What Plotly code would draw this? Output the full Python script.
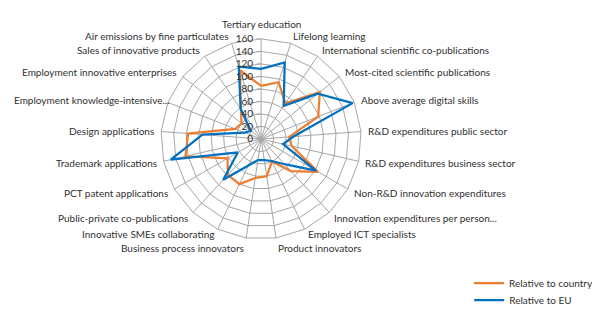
import math
import plotly.graph_objects as go

categories = [
    "Tertiary education", "Lifelong learning", "International scientific co-publications",
    "Most-cited scientific publications", "Above average digital skills",
    "R&D expenditures public sector", "R&D expenditures business sector",
    "Non-R&D innovation expenditures", "Innovation expenditures per person...",
    "Employed ICT specialists", "Product innovators", "Business process innovators",
    "Innovative SMEs collaborating", "Public-private co-publications",
    "PCT patent applications", "Trademark applications", "Design applications",
    "Employment knowledge-intensive...", "Employment innovative enterprises",
    "Sales of innovative products", "Air emissions by fine particulates",
]
relative_to_country = [85, 95, 69, 120, 98, 45, 50, 105, 70, 40, 60, 63, 80, 78,
                       62, 124, 117, 44, 40, 57, 115]
relative_to_eu = [112, 128, 64, 116, 157, 52, 36, 101, 55, 39, 34, 34, 47, 89,
                  43, 148, 94, 28, 21, 58, 121]
radial_ticks = [0, 20, 40, 60, 80, 100, 120, 140, 160]

ORANGE = "#ED7D31"
BLUE = "#0070C0"
TEXT = "#303030"
GRID = "#A6A6A6"
FS = 10

W, H = 598, 325
# polar area (pixels): center and outer radius
CX, CY, RAD = 266, 139, 102
LABEL_R = 108
EDGE = 13          # labels are kept inside the chart area
CHAR_W = 5.0       # rough average glyph width at FS

fig = go.Figure()
fig.add_trace(go.Scatterpolar(
    r=relative_to_country + relative_to_country[:1],
    theta=categories + categories[:1],
    mode="lines", name="Relative to country",
    line=dict(color=ORANGE, width=2.25), legend="legend",
))
fig.add_trace(go.Scatterpolar(
    r=relative_to_eu + relative_to_eu[:1],
    theta=categories + categories[:1],
    mode="lines", name="Relative to EU",
    line=dict(color=BLUE, width=2.25), legend="legend2",
))

# category labels placed around the radar like the original
annotations = []
n = len(categories)
for i, name in enumerate(categories):
    ang = math.radians(i * 360 / n)
    s, c = math.sin(ang), math.cos(ang)
    px = CX + LABEL_R * s
    py = CY - LABEL_R * c
    if abs(s) < 0.05:
        xa, ya = "center", ("bottom" if c > 0 else "top")
    else:
        xa, ya = ("left" if s > 0 else "right"), "middle"
        if xa == "right" and px - len(name) * CHAR_W < EDGE:
            xa, px = "left", EDGE
    # keep the crowded labels at the bottom from colliding
    yshift = 0
    if c < -0.95:
        yshift = -2
    elif c < -0.85:
        yshift = 2
    annotations.append(dict(
        x=px / W, y=1 - py / H, xref="paper", yref="paper",
        text=name, showarrow=False, xanchor=xa, yanchor=ya, yshift=yshift,
        font=dict(size=FS, color=TEXT), borderpad=0,
    ))

legend_common = dict(xanchor="left", yanchor="middle",
                     font=dict(size=FS, color=TEXT),
                     bgcolor="rgba(0,0,0,0)", itemwidth=30)

fig.update_layout(
    width=W, height=H,
    margin=dict(l=0, r=0, t=0, b=0),
    paper_bgcolor="white",
    font=dict(family="Lato, 'Open Sans', sans-serif", size=FS, color=TEXT),
    polar=dict(
        domain=dict(x=[(CX - RAD) / W, (CX + RAD) / W],
                    y=[1 - (CY + RAD) / H, 1 - (CY - RAD) / H]),
        bgcolor="white",
        gridshape="linear",
        angularaxis=dict(
            rotation=90, direction="clockwise",
            showline=True, linecolor=GRID, linewidth=1,
            gridcolor=GRID, gridwidth=1,
            ticks="", showticklabels=False,
        ),
        radialaxis=dict(
            range=[0, 160], tickvals=radial_ticks, angle=90, tickangle=90,
            side="counterclockwise",
            showline=False, gridcolor=GRID, gridwidth=1,
            ticks="outside", ticklen=4, tickcolor=GRID,
            tickfont=dict(size=FS, color=TEXT),
        ),
    ),
    annotations=annotations,
    legend=dict(x=478 / W, y=1 - 283 / H, **legend_common),
    legend2=dict(x=478 / W, y=1 - 300 / H, **legend_common),
    showlegend=True,
)

fig.write_html("out.html")
